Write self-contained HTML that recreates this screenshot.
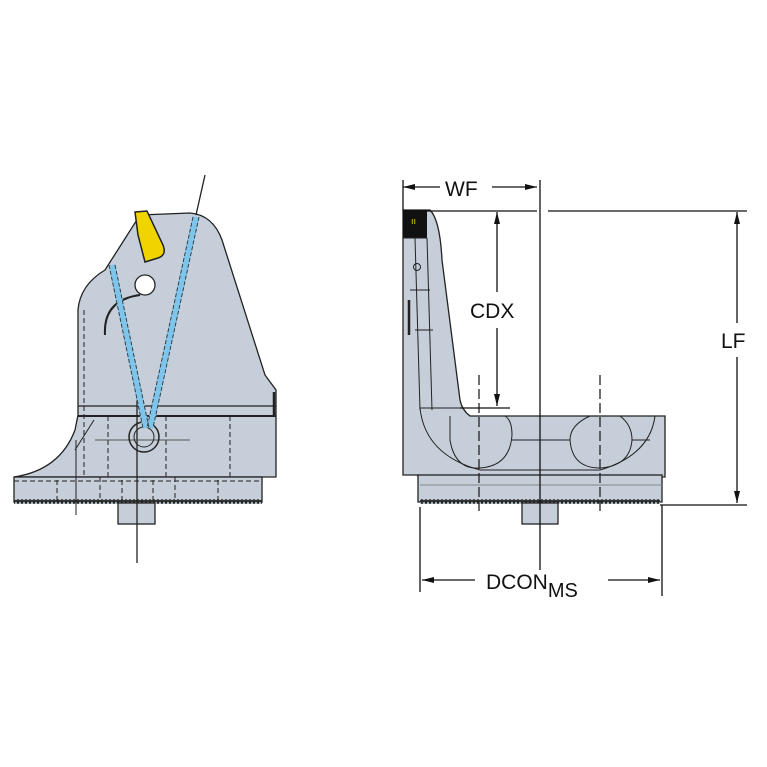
<!DOCTYPE html>
<html><head><style>body{margin:0;background:#fff}svg{display:block}</style></head><body>
<svg width="767" height="767" viewBox="0 0 767 767" xmlns="http://www.w3.org/2000/svg" font-family="Liberation Sans, sans-serif">
<defs>
<pattern id="ser" width="4" height="4" patternUnits="userSpaceOnUse"><rect width="4" height="4" fill="#c5ced9"/><rect x="0" y="0" width="4" height="2" fill="#333"/><circle cx="2" cy="2.5" r="1.3" fill="#222"/></pattern>
</defs>
<!-- LEFT VIEW -->
<g stroke="#222" stroke-width="1.3" fill="#c5ced9">
<path d="M14,477 Q60,470 75,430 L78,415 L78,310 Q80,285 105,270 L140,215 L190,213 Q213,215 222,240 L265,375 L276,390 L276,477 Z"/>
<rect x="14" y="477" width="248" height="25"/>
<rect x="14" y="499" width="248" height="5" fill="url(#ser)" stroke="none"/>
<rect x="118" y="503" width="37" height="21"/>
</g>
<g stroke="#222" fill="none">
<line x1="78" y1="406" x2="276" y2="406" stroke-width="1.3"/>
<line x1="78" y1="416" x2="276" y2="416" stroke-width="2"/>
<line x1="274" y1="392" x2="274" y2="416" stroke-width="2.5"/>
<g stroke-dasharray="5,3" stroke-width="1">
<line x1="84" y1="310" x2="84" y2="477"/>
<line x1="108" y1="416" x2="108" y2="477"/>
<line x1="166" y1="416" x2="166" y2="477"/>
<line x1="230" y1="416" x2="230" y2="477"/>
<line x1="100" y1="477" x2="175" y2="477"/>
<line x1="100" y1="477" x2="100" y2="502"/>
<line x1="175" y1="477" x2="175" y2="502"/>
<line x1="57" y1="480" x2="57" y2="502"/>
<line x1="218" y1="480" x2="218" y2="502"/>
<line x1="122" y1="480" x2="122" y2="502"/>
<line x1="153" y1="480" x2="153" y2="502"/>
<line x1="14" y1="481" x2="262" y2="481"/>
</g>
<line x1="94" y1="420" x2="75" y2="450" stroke-width="1"/>
<line x1="76" y1="440" x2="76" y2="515" stroke-width="1"/>
<line x1="137" y1="390" x2="137" y2="563" stroke-width="1.3"/>
<line x1="95" y1="440" x2="190" y2="440" stroke-width="1" stroke="#555"/>
<circle cx="144" cy="437" r="15" stroke-width="1.5"/>
<circle cx="144" cy="437" r="10" stroke-width="1"/>
<line x1="205" y1="175" x2="196" y2="215" stroke-width="1.3"/>
<path d="M105,335 Q103,300 140,295" stroke-width="2"/>
</g>
<g stroke="#7fc4ea" stroke-width="7" fill="none">
<line x1="112" y1="265" x2="146" y2="428"/>
<line x1="196" y1="217" x2="150" y2="428"/>
</g>
<g stroke="#333" stroke-width="0.9" stroke-dasharray="4,2" fill="none">
<line x1="109" y1="265" x2="143" y2="428"/><line x1="115" y1="265" x2="149" y2="428"/>
<line x1="193" y1="217" x2="147" y2="428"/><line x1="199" y1="217" x2="153" y2="428"/>
</g>
<circle cx="145" cy="285" r="10" fill="#fff" stroke="#222" stroke-width="1.3"/>
<path d="M135,212 L147,211 L163,245 Q167,255 158,258 L145,262 L138,235 Z" fill="#f0d400" stroke="#222" stroke-width="1.5"/>
<!-- RIGHT VIEW -->
<g stroke="#222" stroke-width="1.3" fill="#c5ced9">
<path d="M403,210 L430,210 Q440,220 442,260 L460,400 Q462,410 470,416 L665,416 L665,477 L418,477 L418,475 L403,475 Z"/>
<rect x="418" y="475" width="244" height="27"/>
<rect x="420" y="499" width="240" height="5" fill="url(#ser)" stroke="none"/>
<rect x="522" y="503" width="36" height="21"/>
</g>
<rect x="403" y="210" width="24" height="28" fill="#111"/>
<text x="411" y="224" fill="#f0d400" font-size="9">ıı</text>
<g stroke="#222" fill="none" stroke-width="1">
<line x1="403" y1="238" x2="427" y2="238"/>
<line x1="427" y1="238" x2="432" y2="410"/>
<line x1="415" y1="238" x2="420" y2="410"/>
<line x1="410" y1="290" x2="430" y2="290"/>
<line x1="415" y1="330" x2="433" y2="330"/>
<circle cx="417" cy="267" r="3.5"/>
<line x1="420" y1="408" x2="460" y2="408"/>
<path d="M420,408 Q425,455 480,470 L600,470 Q650,455 655,416"/>
<path d="M450,416 L450,440 Q455,470 480,468 Q510,466 512,435 Q512,420 505,416"/>
<path d="M590,416 Q570,425 570,440 Q572,468 600,468 Q630,466 632,440 Q632,425 620,416"/>
<line x1="512" y1="440" x2="570" y2="440"/>
<line x1="632" y1="440" x2="650" y2="440"/>
<line x1="420" y1="485" x2="662" y2="485" stroke="#888"/>
<line x1="409" y1="300" x2="409" y2="335" stroke-width="2.5"/>
<g stroke-dasharray="10,4" stroke-width="1.3">
<line x1="479" y1="375" x2="479" y2="515"/>
<line x1="600" y1="375" x2="600" y2="515"/>
</g>
</g>
<!-- dimensions -->
<g stroke="#111" stroke-width="1.3" fill="none">
<line x1="403" y1="180" x2="403" y2="210"/>
<line x1="540" y1="180" x2="540" y2="570"/>
<line x1="403" y1="187" x2="440" y2="187"/><line x1="492" y1="187" x2="537" y2="187"/>
<line x1="403" y1="211" x2="537" y2="211"/>
<line x1="548" y1="211" x2="747" y2="211"/>
<line x1="660" y1="505" x2="747" y2="505"/>
<line x1="737" y1="212" x2="737" y2="323"/><line x1="737" y1="357" x2="737" y2="503"/>
<line x1="497" y1="212" x2="497" y2="292"/><line x1="497" y1="328" x2="497" y2="406"/>
<line x1="460" y1="408" x2="510" y2="408"/>
<line x1="420" y1="507" x2="420" y2="592"/>
<line x1="662" y1="505" x2="662" y2="596"/>
<line x1="422" y1="580" x2="475" y2="580"/><line x1="608" y1="580" x2="660" y2="580"/>
</g>
<g fill="#111">
<path d="M403,187 L415,184 L415,190 Z"/><path d="M537,187 L525,184 L525,190 Z"/>
<path d="M737,212 L734,224 L740,224 Z"/><path d="M737,503 L734,491 L740,491 Z"/>
<path d="M497,212 L494,224 L500,224 Z"/><path d="M497,406 L494,394 L500,394 Z"/>
<path d="M422,580 L434,577 L434,583 Z"/><path d="M660,580 L648,577 L648,583 Z"/>
</g>
<g font-size="21" fill="#111">
<text x="445" y="196">WF</text>
<text x="470" y="318">CDX</text>
<text x="721" y="348">LF</text>
<text x="486" y="589">DCON<tspan font-size="20" dy="8">MS</tspan></text>
</g>
</svg>
</body></html>
